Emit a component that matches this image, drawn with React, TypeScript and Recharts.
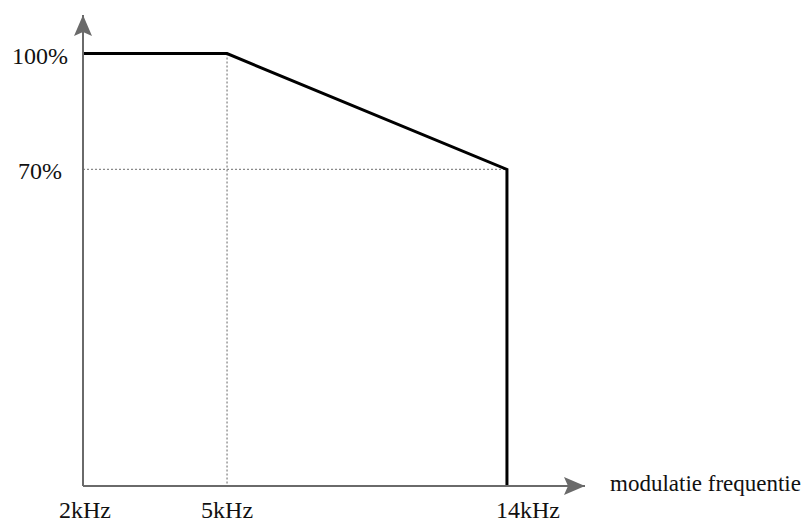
import React from 'react';
import { LineChart, Line, XAxis, YAxis, ReferenceLine } from 'recharts';

// ---- data ----
const frequenciesKHz = [2, 5, 14, 14];
const loadPercent = [100, 100, 70, -12]; // last point: drop down to the frequency axis
const xTicks = [2, 5, 14];
const xTickLabels = ['2kHz', '5kHz', '14kHz'];
const yTicks = [100, 70];
const yTickLabels = ['100%', '70%'];
const xAxisTitle = 'modulatie frequentie';
const kneeFrequency = 5;
const reducedLoad = 70;

const xDomain: [number, number] = [2, 17.2];
const yDomain: [number, number] = [-12, 110];

const data = frequenciesKHz.map((f, i) => ({ f, load: loadPercent[i] }));

const AXIS_COLOR = '#6a6a6a';
const GUIDE_COLOR = '#8a8a8a';
const FONT = '"Liberation Serif", "Times New Roman", serif';

// a d3-compatible power scale (the drawing's frequency axis is compressed)
function makePowScale(exponent: number, domain: number[] = [0, 1], range: number[] = [0, 1]): any {
  let dom = domain.slice();
  let rng = range.slice();
  const t = (v: number) => Math.sign(v) * Math.pow(Math.abs(v), exponent);
  const scale: any = (v: number) => {
    const d0 = t(dom[0]);
    const d1 = t(dom[dom.length - 1]);
    const r0 = rng[0];
    const r1 = rng[rng.length - 1];
    return r0 + ((t(Number(v)) - d0) / (d1 - d0)) * (r1 - r0);
  };
  scale.domain = (d?: any) => {
    if (d === undefined) return dom.slice();
    dom = Array.from(d as ArrayLike<number>).map(Number);
    return scale;
  };
  scale.range = (r?: any) => {
    if (r === undefined) return rng.slice();
    rng = Array.from(r as ArrayLike<number>).map(Number);
    return scale;
  };
  scale.copy = () => makePowScale(exponent, dom, rng);
  scale.ticks = (n: number = 10) => {
    const a = dom[0];
    const b = dom[dom.length - 1];
    const step = (b - a) / n;
    const out: number[] = [];
    for (let i = 0; i <= n; i++) out.push(a + i * step);
    return out;
  };
  scale.invert = (px: number) => {
    const d0 = t(dom[0]);
    const d1 = t(dom[dom.length - 1]);
    const r0 = rng[0];
    const r1 = rng[rng.length - 1];
    const tv = d0 + ((px - r0) / (r1 - r0)) * (d1 - d0);
    return Math.sign(tv) * Math.pow(Math.abs(tv), 1 / exponent);
  };
  return scale;
}

const xScale = makePowScale(0.56);

const XTick = (props: any) => {
  const { x, y, payload } = props;
  const i = xTicks.indexOf(payload.value);
  const dx = i === xTicks.length - 1 ? 21 : i === 0 ? 2 : 0;
  return (
    <text x={x + dx} y={y + 32} textAnchor="middle" fontFamily={FONT} fontSize={24} fill="#111">
      {xTickLabels[i]}
    </text>
  );
};

const YTick = (props: any) => {
  const { x, y, payload } = props;
  const i = yTicks.indexOf(payload.value);
  return (
    <text x={x - 43} y={y + 10} textAnchor="middle" fontFamily={FONT} fontSize={24} fill="#111">
      {yTickLabels[i]}
    </text>
  );
};

const XTitle = (props: any) => {
  const vb = props.viewBox || { x: 83, y: 486, width: 502, height: 0 };
  return (
    <text x={vb.x + vb.width + 25} y={vb.y + 5} textAnchor="start" fontFamily={FONT} fontSize={23} fill="#111">
      {xAxisTitle}
    </text>
  );
};

export default function App() {
  return (
    <div style={{ position: 'absolute', left: 0, top: 0, width: 807, height: 523, background: '#fff' }}>
      <svg width={0} height={0} style={{ position: 'absolute' }}>
        <defs>
          <marker
            id="axisArrow"
            viewBox="0 0 21 18"
            markerUnits="userSpaceOnUse"
            markerWidth={21}
            markerHeight={18}
            refX={21}
            refY={9}
            orient="auto-start-reverse"
          >
            <path d="M0,0 L21,9 L0,18 L4,9 Z" fill={AXIS_COLOR} />
          </marker>
        </defs>
      </svg>
      <LineChart
        width={807}
        height={523}
        data={data}
        margin={{ top: 15, right: 222, bottom: 36, left: 82 }}
      >
        <XAxis
          dataKey="f"
          type="number"
          domain={xDomain}
          scale={xScale}
          ticks={xTicks}
          interval={0}
          height={1}
          tickLine={false}
          tickSize={0}
          tickMargin={0}
          tick={<XTick />}
          axisLine={{ stroke: AXIS_COLOR, strokeWidth: 2, markerEnd: 'url(#axisArrow)' }}
          label={<XTitle />}
        />
        <YAxis
          type="number"
          domain={yDomain}
          ticks={yTicks}
          interval={0}
          width={1}
          tickLine={false}
          tickSize={0}
          tickMargin={0}
          tick={<YTick />}
          axisLine={{ stroke: AXIS_COLOR, strokeWidth: 2, markerStart: 'url(#axisArrow)' }}
        />
        <ReferenceLine
          segment={[
            { x: kneeFrequency, y: yTicks[0] },
            { x: kneeFrequency, y: yDomain[0] },
          ]}
          stroke={GUIDE_COLOR}
          strokeWidth={1.3}
          strokeDasharray="2 2"
        />
        <ReferenceLine
          segment={[
            { x: xTicks[0], y: reducedLoad },
            { x: xTicks[xTicks.length - 1], y: reducedLoad },
          ]}
          stroke={GUIDE_COLOR}
          strokeWidth={1.3}
          strokeDasharray="2 2"
        />
        <Line
          type="linear"
          dataKey="load"
          stroke="#000"
          strokeWidth={3}
          dot={false}
          activeDot={false}
          isAnimationActive={false}
        />
      </LineChart>
    </div>
  );
}
